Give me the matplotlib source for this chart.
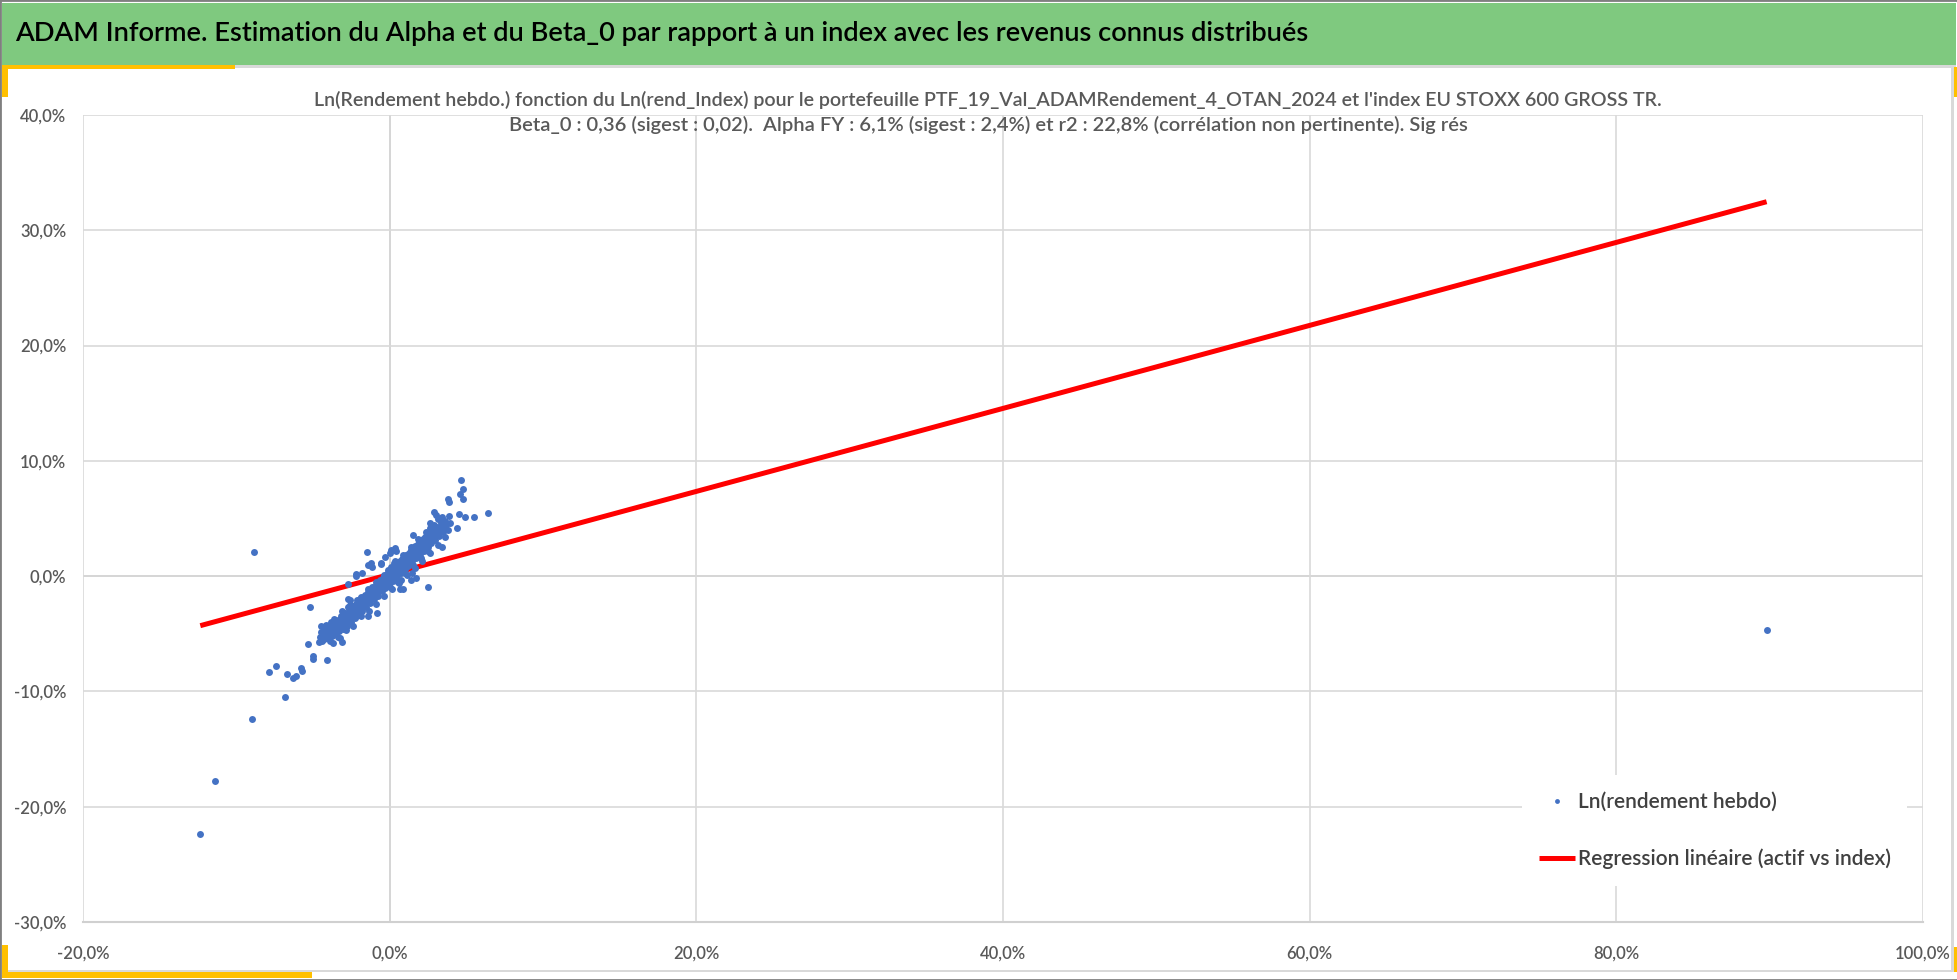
import matplotlib
matplotlib.use("Agg")
import matplotlib.pyplot as plt
from matplotlib.patches import Rectangle
from matplotlib.ticker import FuncFormatter, MultipleLocator
import numpy as np

plt.rcParams['font.family'] = ['Lato', 'DejaVu Sans']

# texts
header_title = "ADAM Informe. Estimation du Alpha et du Beta_0 par rapport à un index avec les revenus connus distribués"
chart_title_1 = ("Ln(Rendement hebdo.) fonction du Ln(rend_Index) pour le portefeuille "
                 "PTF_19_Val_ADAMRendement_4_OTAN_2024 et l'index EU STOXX 600 GROSS TR.")
chart_title_2 = ("Beta_0 : 0,36 (sigest : 0,02).  Alpha FY : 6,1% (sigest : 2,4%) et r2 : 22,8% "
                 "(corrélation non pertinente). Sig rés")
label_points = "Ln(rendement hebdo)"
label_regr = "Regression linéaire (actif vs index)"

# regression (weekly log returns, as fractions)
beta0 = 0.36
intercept = 0.0015

# weekly points, in percent: (index, portfolio)
band_pts = [
    (-4.55, -5.30), (-4.45, -4.85), (-4.30, -5.10), (-4.20, -4.60), (-4.28, -5.45),
    (-4.05, -5.00), (-3.95, -4.40), (-4.10, -5.35), (-3.92, -4.75),
    (-3.80, -4.90), (-3.70, -4.30), (-3.78, -5.20), (-3.68, -4.00),
    (-3.55, -4.60), (-3.45, -4.10), (-3.52, -5.00), (-3.40, -3.80), (-3.48, -4.40),
    (-3.30, -4.50), (-3.20, -3.90), (-3.28, -4.80), (-3.15, -3.50), (-3.22, -4.20),
    (-3.05, -4.10), (-2.95, -3.60), (-3.02, -4.60), (-2.92, -3.20), (-2.98, -3.90), (-3.08, -4.40),
    (-2.80, -3.80), (-2.70, -3.30), (-2.78, -4.30), (-2.68, -3.00), (-2.75, -3.60), (-2.72, -2.70),
    (-2.55, -3.50), (-2.45, -3.00), (-2.52, -4.00), (-2.42, -2.60), (-2.48, -3.30), (-2.58, -3.80),
    (-2.30, -3.20), (-2.20, -2.70), (-2.28, -3.60), (-2.18, -2.40), (-2.25, -2.90), (-2.32, -3.40),
    (-2.05, -2.90), (-1.95, -2.40), (-2.02, -3.30), (-1.92, -2.00), (-1.98, -2.60), (-2.08, -3.10), (-1.90, -1.80),
    (-1.80, -2.60), (-1.70, -2.10), (-1.78, -3.00), (-1.68, -1.80), (-1.75, -2.30), (-1.82, -2.80),
    (-1.55, -2.30), (-1.45, -1.80), (-1.52, -2.70), (-1.42, -1.40), (-1.48, -2.00), (-1.58, -2.50), (-1.40, -1.10),
    (-1.30, -1.90), (-1.20, -1.50), (-1.28, -2.30), (-1.18, -1.10), (-1.25, -1.70), (-1.32, -2.10),
    (-1.05, -1.60), (-0.95, -1.20), (-1.02, -2.00), (-0.92, -0.80), (-0.98, -1.40), (-1.08, -1.80), (-0.90, -0.50),
    (-0.80, -1.30), (-0.70, -0.90), (-0.78, -1.70), (-0.68, -0.50), (-0.75, -1.10), (-0.82, -1.50),
    (-0.55, -0.90), (-0.45, -0.50), (-0.52, -1.30), (-0.42, -0.20), (-0.48, -0.70), (-0.58, -1.10), (-0.40, 0.10),
    (-0.30, -0.60), (-0.20, -0.20), (-0.28, -1.00), (-0.18, 0.20), (-0.25, -0.40), (-0.32, -0.80),
    (-0.05, -0.30), (0.05, 0.10), (-0.02, -0.70), (0.08, 0.50), (0.02, -0.10), (-0.08, 0.30), (0.04, -0.90), (0.10, 0.80),
    (0.20, 0.00), (0.30, 0.40), (0.22, -0.40), (0.32, 0.80), (0.25, 0.20), (0.18, 0.60), (0.28, 1.10),
    (0.45, 0.40), (0.55, 0.80), (0.48, 0.00), (0.58, 1.20), (0.52, 0.60), (0.42, 1.00), (0.50, -0.30),
    (0.70, 0.70), (0.80, 1.10), (0.72, 0.30), (0.82, 1.50), (0.75, 0.90), (0.68, 1.30),
    (0.95, 1.00), (1.05, 1.40), (0.98, 0.60), (1.08, 1.80), (1.00, 1.20), (0.92, 1.60), (1.02, 0.30),
    (1.20, 1.30), (1.30, 1.70), (1.22, 0.90), (1.32, 2.10), (1.25, 1.50), (1.18, 1.90),
    (1.45, 1.70), (1.55, 2.10), (1.48, 1.30), (1.58, 2.50), (1.50, 1.90), (1.42, 2.30), (1.52, 1.00),
    (1.70, 2.00), (1.80, 2.40), (1.72, 1.60), (1.82, 2.80), (1.75, 2.20), (1.68, 2.60),
    (1.95, 2.30), (2.05, 2.70), (1.98, 1.90), (2.08, 3.10), (2.00, 2.50), (1.92, 2.90), (2.02, 1.60),
    (2.20, 2.60), (2.30, 3.00), (2.22, 2.20), (2.32, 3.40), (2.25, 2.80), (2.18, 3.20),
    (2.45, 2.90), (2.55, 3.30), (2.48, 2.50), (2.58, 3.70), (2.50, 3.10), (2.42, 3.50), (2.52, 2.20),
    (2.70, 3.20), (2.80, 3.60), (2.72, 2.90), (2.82, 4.00), (2.75, 3.40), (2.68, 3.80),
    (2.95, 3.50), (3.05, 3.90), (2.98, 3.10), (3.08, 4.30), (3.00, 3.70), (2.92, 4.10),
    (3.20, 3.80), (3.30, 4.20), (3.22, 3.50), (3.32, 4.60), (3.25, 4.00),
    (3.45, 4.10), (3.55, 4.50), (3.48, 3.80), (3.58, 4.80),
    (3.70, 4.40), (3.80, 4.00),
]

# outer edge of the dense band
band_edge_pts = [
    (-4.60, -5.70), (-4.40, -5.60), (-4.15, -4.20), (-3.90, -5.60), (-3.60, -3.70),
    (-3.35, -5.30), (-3.10, -3.00), (-2.85, -4.70), (-2.60, -2.50), (-2.40, -4.30),
    (-2.12, -2.10), (-1.88, -3.50), (-1.62, -1.60), (-1.38, -3.00), (-1.12, -0.90),
    (-0.88, -2.40), (-0.62, -0.30), (-0.38, -1.70), (-0.12, 0.50), (0.12, -1.10),
    (0.38, 1.30), (0.62, -0.60), (0.88, 1.80), (1.12, 0.10), (1.38, 2.50),
    (1.62, 0.70), (1.88, 3.20), (2.12, 1.30), (2.38, 3.80), (2.62, 2.00),
    (2.88, 4.40), (3.12, 2.70), (3.38, 4.90), (3.62, 3.40), (3.88, 5.20),
    (3.95, 4.60), (3.15, 5.00), (2.65, 4.20), (-3.25, -5.40), (-4.50, -4.30),
]

# points scattered around the band
spread_pts = [
    (-1.46, 2.10), (-1.20, 1.10), (-1.13, 0.80), (-0.54, 1.16), (-0.33, 1.68),
    (0.00, 2.00), (0.10, 2.30), (0.33, 2.40), (0.43, 2.20), (-2.20, 0.00),
    (-1.80, 0.30), (-2.70, -0.64), (0.65, -1.13), (0.87, -1.13), (1.48, 0.23),
    (1.74, -0.12), (1.41, -0.35), (0.76, -0.35), (0.54, -0.50), (-2.72, -1.94),
    (-2.60, -2.08), (-3.37, -4.50), (-0.83, -3.20), (-1.41, -3.50), (-2.17, -3.50),
    (-1.41, 0.95), (-0.54, 1.04), (-2.17, 0.17), (1.52, 3.55), (2.50, -0.90),
    (3.40, 2.50), (2.60, 4.57), (2.90, 5.60), (3.00, 5.30), (3.40, 5.10),
    (4.40, 4.20), (4.50, 5.40), (4.90, 5.10), (5.50, 5.10), (6.40, 5.50),
    (3.80, 6.70), (3.85, 6.40), (4.60, 7.10), (4.80, 6.70), (4.78, 7.60), (4.67, 8.32),
]

# lower tail and isolated weeks
tail_pts = [
    (-5.20, -2.70), (-4.30, -4.70), (-3.80, -4.00), (-4.05, -5.20), (-3.70, -5.80),
    (-3.10, -5.75), (-5.30, -5.90), (-5.00, -6.90), (-5.00, -7.20), (-4.10, -7.30),
    (-7.40, -7.80), (-7.90, -8.35), (-6.70, -8.50), (-6.30, -8.80), (-6.10, -8.70),
    (-5.80, -8.00), (-5.70, -8.20), (-6.80, -10.50), (-9.00, -12.40), (-11.40, -17.80),
    (-12.35, -22.40), (-8.85, 2.10), (89.80, -4.70),
]

all_pts = np.array(band_pts + band_edge_pts + spread_pts + tail_pts) / 100.0
x_idx = all_pts[:, 0]
y_ptf = all_pts[:, 1]

W, H = 1958, 980


def fx(px):
    return px / W


def fy(py):
    return 1 - py / H


fig = plt.figure(figsize=(W / 100, H / 100), dpi=100)
fig.patch.set_facecolor('white')


def rect(x0, y0, x1, y1, color, z=1, **kw):
    fig.add_artist(Rectangle((fx(x0), fy(y1)), fx(x1) - fx(x0), fy(y0) - fy(y1),
                             transform=fig.transFigure, facecolor=color,
                             edgecolor='none', zorder=z, **kw))


# frame: header band, shadow lines, yellow corners, border
rect(2, 3, 1956, 65, '#7FC97F')
rect(235, 65, 1956, 68, '#D9D9D9')
rect(8, 970, 1954, 972, '#D9D9D9')
rect(1951, 68, 1954, 972, '#D9D9D9')
rect(2, 65, 235, 69, '#FFC000', z=2)
rect(2, 65, 8, 97, '#FFC000', z=2)
rect(1954, 67, 1957, 97, '#FFC000', z=2)
rect(2, 945, 8, 978, '#FFC000', z=2)
rect(2, 972, 312, 978, '#FFC000', z=2)
rect(1954, 947, 1957, 972, '#FFC000', z=2)
fig.add_artist(Rectangle((0, 0), 1, 1, transform=fig.transFigure, facecolor='none',
                         edgecolor='#7F7F7F', linewidth=2, zorder=3))

fig.text(fx(15), fy(34), header_title, fontsize=19.6, fontweight='semibold',
         color='black', ha='left', va='center')
fig.text(fx(988), fy(100), chart_title_1, fontsize=14.1, fontweight='semibold',
         color='#595959', ha='center', va='center')
fig.text(fx(988), fy(125), chart_title_2, fontsize=14.5, fontweight='semibold',
         color='#595959', ha='center', va='center')

ax = fig.add_axes([fx(83), fy(922), fx(1923) - fx(83), fy(115) - fy(922)])
ax.set_xlim(-0.2, 1.0)
ax.set_ylim(-0.3, 0.4)
ax.xaxis.set_major_locator(MultipleLocator(0.2))
ax.yaxis.set_major_locator(MultipleLocator(0.1))


def pct(v, pos):
    s = f"{v * 100:.1f}%".replace('.', ',')
    return "0,0%" if s == "-0,0%" else s


ax.xaxis.set_major_formatter(FuncFormatter(pct))
ax.yaxis.set_major_formatter(FuncFormatter(pct))
ax.grid(True, color='#D9D9D9', linewidth=1.2)
ax.set_axisbelow(True)
for side in ['top', 'right', 'left']:
    ax.spines[side].set_visible(False)
ax.spines['bottom'].set_color('#D0D0D0')
ax.spines['bottom'].set_linewidth(1.5)
ax.axhline(0, color='#BFBFBF', linewidth=1.2, zorder=0.5)
ax.axvline(0, color='#BFBFBF', linewidth=1.2, zorder=0.5)
ax.tick_params(length=0, labelsize=12, labelcolor='#595959')
for lbl in ax.get_xticklabels() + ax.get_yticklabels():
    lbl.set_fontweight('semibold')
ax.tick_params(axis='y', pad=12)
ax.tick_params(axis='x', pad=17)

x_line = np.array([x_idx.min(), x_idx.max()])
ax.plot(x_line, intercept + beta0 * x_line, color='#FF0000', linewidth=3.6,
        solid_capstyle='butt', zorder=2, label=label_regr)
ax.plot(x_idx, y_ptf, linestyle='none', marker='o', markersize=5.0, markeredgewidth=0,
        color='#4472C4', zorder=3, label=label_points)

handles, labels = ax.get_legend_handles_labels()
leg = ax.legend(handles[::-1], labels[::-1], loc='upper left',
                bbox_to_anchor=(fx(1512), fy(765)), bbox_transform=fig.transFigure,
                frameon=True, facecolor='white', edgecolor='none', framealpha=1,
                prop={'size': 15, 'weight': 'semibold'},
                handlelength=1.7, handletextpad=0.15, labelspacing=1.75,
                borderpad=0.8, markerscale=0.7)
for t in leg.get_texts():
    t.set_color('#404040')

fig.savefig('out.png', dpi=100, facecolor='white')
